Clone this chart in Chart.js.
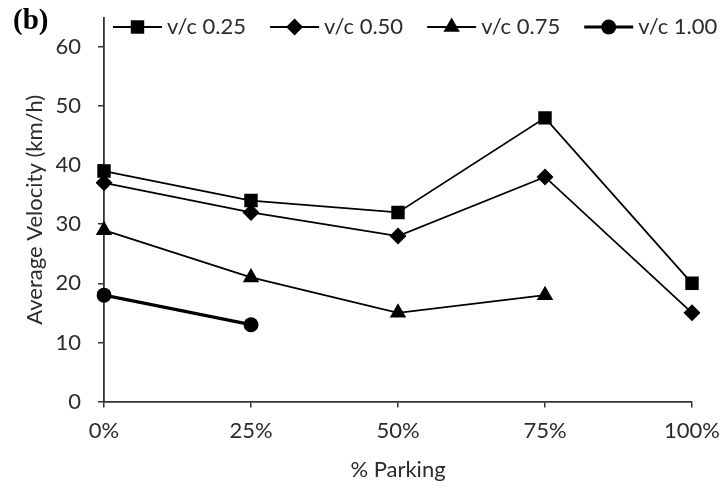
<!DOCTYPE html>
<html>
<head>
<meta charset="utf-8">
<script src="https://cdn.jsdelivr.net/npm/chart.js@4.4.1/dist/chart.umd.min.js"></script>
<style>
  html, body { margin: 0; padding: 0; background: #fff; }
  #wrap { position: relative; width: 724px; height: 487px; }
  #panel { position: absolute; left: 13px; top: 5px; font-family: "Liberation Serif", "DejaVu Serif", serif; font-weight: bold; font-size: 29px; line-height: 1; color: #000; }
</style>
</head>
<body>
<div id="wrap">
  <canvas id="c" width="724" height="487"></canvas>
  <div id="panel">(b)</div>
</div>
<script>
const categories = ["0%", "25%", "50%", "75%", "100%"];
const seriesNames = ["v/c 0.25", "v/c 0.50", "v/c 0.75", "v/c 1.00"];
const vc025 = [39, 34, 32, 48, 20];
const vc050 = [37, 32, 28, 38, 15];
const vc075 = [29, 21, 15, 18, null];
const vc100 = [18, 13, null, null, null];
const yTicks = [0, 10, 20, 30, 40, 50, 60];

const FONT = "Lato";
const TXT = "#2b2b2b";

const legendPlugin = {
  id: "lineLegend",
  afterDraw(chart) {
    const ctx = chart.ctx;
    ctx.save();
    ctx.font = "22px " + FONT;
    ctx.textBaseline = "alphabetic";
    ctx.textAlign = "left";
    let x = 113;
    const y = 27;
    chart.data.datasets.forEach(ds => {
      ctx.strokeStyle = "#000";
      ctx.lineWidth = ds.borderWidth;
      ctx.beginPath();
      ctx.moveTo(x, y);
      ctx.lineTo(x + 49, y);
      ctx.stroke();
      ctx.fillStyle = "#000";
      Chart.helpers.drawPoint(ctx, {pointStyle: ds.pointStyle, radius: ds.pointRadius, rotation: 0, borderWidth: 0}, x + 24.5, y);
      ctx.fillStyle = TXT;
      ctx.fillText(ds.label, x + 54, y + 7);
      const w = ctx.measureText(ds.label).width;
      x += 49 + 5 + w + 24;
    });
    ctx.restore();
  }
};

const mk = (label, data, style, r, bw) => ({
  label, data,
  borderColor: "#000", backgroundColor: "#000",
  borderWidth: bw,
  pointStyle: style, pointRadius: r, pointHoverRadius: r,
  pointBackgroundColor: "#000", pointBorderColor: "#000", pointBorderWidth: 0,
  tension: 0, spanGaps: false
});

new Chart(document.getElementById("c"), {
  type: "line",
  data: {
    labels: categories,
    datasets: [
      mk(seriesNames[0], vc025, "rect", 9.5, 1.8),
      mk(seriesNames[1], vc050, "rectRot", 8.5, 1.8),
      mk(seriesNames[2], vc075, "triangle", 9.5, 1.8),
      mk(seriesNames[3], vc100, "circle", 7.5, 3.2)
    ]
  },
  options: {
    responsive: false,
    animation: false,
    events: [],
    layout: { padding: { top: 18, right: 32, left: 0, bottom: 0 } },
    plugins: { legend: { display: false }, tooltip: { enabled: false } },
    scales: {
      x: {
        type: "category",
        offset: false,
        grid: { drawOnChartArea: false, drawTicks: true, tickLength: 6, color: "#333", lineWidth: 1.5 },
        border: { color: "#333", width: 1.8 },
        ticks: { color: TXT, font: { family: FONT, size: 22 }, padding: 10, maxRotation: 0 },
        title: { display: true, text: "% Parking", color: TXT, font: { family: FONT, size: 22 }, padding: { top: 0, bottom: 4 } },
        afterFit(s) { s.height = 487 - 401.5; s.paddingLeft = 0; s.paddingRight = 0; }
      },
      y: {
        min: 0, max: 64.9,
        grid: { drawOnChartArea: false, drawTicks: true, tickLength: 6, color: "#333", lineWidth: 1.5 },
        border: { color: "#333", width: 1.8 },
        ticks: { color: TXT, font: { family: FONT, size: 22 }, padding: 17, stepSize: 10 },
        afterBuildTicks(s) { s.ticks = yTicks.map(v => ({ value: v })); },
        title: { display: true, text: "Average Velocity (km/h)", color: TXT, font: { family: FONT, size: 22 }, padding: { top: 22, bottom: 0 } },
        afterFit(s) { s.width = 104; s.paddingTop = 0; s.paddingBottom = 0; }
      }
    }
  },
  plugins: [legendPlugin]
});
</script>
</body>
</html>
